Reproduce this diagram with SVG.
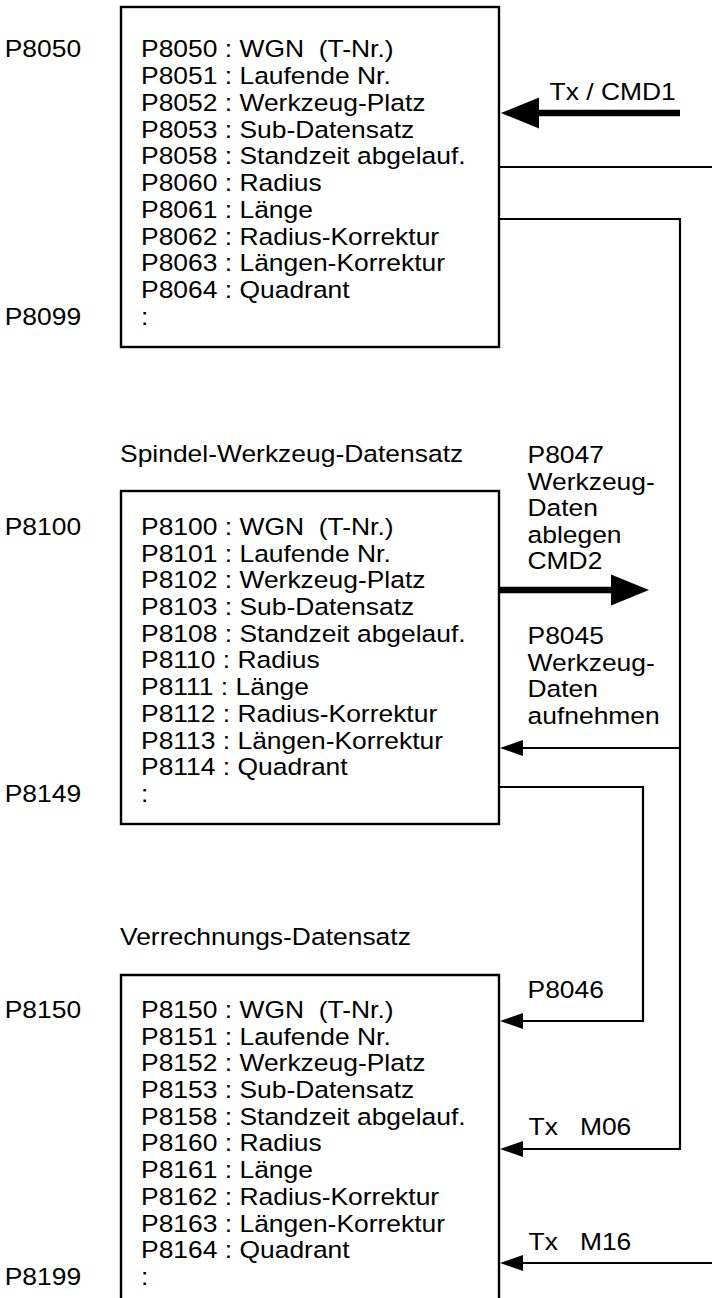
<svg xmlns="http://www.w3.org/2000/svg" width="712" height="1298" viewBox="0 0 712 1298">
  <style>
    text { font-family: "Liberation Sans", Arial, Helvetica, sans-serif; font-size: 23.5px; fill: #000; white-space: pre; }
    .box { fill: none; stroke: #000; stroke-width: 2.4; }
    .wire { fill: none; stroke: #000; stroke-width: 2.2; }
    .bold { fill: none; stroke: #000; stroke-width: 6.7; }
  </style>
  <defs>
    <!-- arrowheads: base sits at the path end, tip points onward -->
    <marker id="head-thin" markerUnits="userSpaceOnUse" markerWidth="23" markerHeight="16" refX="0" refY="8" orient="auto" overflow="visible">
      <path d="M0,0 L23,8 L0,16 Z" fill="#000"/>
    </marker>
    <marker id="head-bold" markerUnits="userSpaceOnUse" markerWidth="38" markerHeight="31" refX="0" refY="15.5" orient="auto" overflow="visible">
      <path d="M0,0 L38,15.5 L0,31 Z" fill="#000"/>
    </marker>
  </defs>

  <rect width="712" height="1298" fill="#fff"/>

  <!-- tool data record (P8050 .. P8099) -->
  <g id="record-tool">
    <rect class="box" x="121" y="7" width="378" height="340"/>
    <g transform="translate(4.7 0) scale(1.125 1)">
      <text x="0" y="57.5">P8050</text>
      <text x="0" y="325">P8099</text>
    </g>
    <g transform="translate(141 0) scale(1.125 1)">
      <text x="0" y="57.5">P8050 : WGN  (T-Nr.)</text>
      <text x="0" y="84.2">P8051 : Laufende Nr.</text>
      <text x="0" y="111">P8052 : Werkzeug-Platz</text>
      <text x="0" y="137.7">P8053 : Sub-Datensatz</text>
      <text x="0" y="164.5">P8058 : Standzeit abgelauf.</text>
      <text x="0" y="191.2">P8060 : Radius</text>
      <text x="0" y="218">P8061 : Länge</text>
      <text x="0" y="244.7">P8062 : Radius-Korrektur</text>
      <text x="0" y="271.5">P8063 : Längen-Korrektur</text>
      <text x="0" y="298.2">P8064 : Quadrant</text>
      <text x="0" y="325">:</text>
    </g>
  </g>

  <!-- spindle tool data record (P8100 .. P8149) -->
  <g id="record-spindle">
    <g transform="translate(120 0) scale(1.125 1)">
      <text x="0" y="462">Spindel-Werkzeug-Datensatz</text>
    </g>
    <rect class="box" x="121" y="491" width="378" height="333"/>
    <g transform="translate(4.7 0) scale(1.125 1)">
      <text x="0" y="535">P8100</text>
      <text x="0" y="802">P8149</text>
    </g>
    <g transform="translate(141 0) scale(1.125 1)">
      <text x="0" y="535">P8100 : WGN  (T-Nr.)</text>
      <text x="0" y="561.7">P8101 : Laufende Nr.</text>
      <text x="0" y="588.4">P8102 : Werkzeug-Platz</text>
      <text x="0" y="615.1">P8103 : Sub-Datensatz</text>
      <text x="0" y="641.8">P8108 : Standzeit abgelauf.</text>
      <text x="0" y="668.5">P8110 : Radius</text>
      <text x="0" y="695.2">P8111 : Länge</text>
      <text x="0" y="721.9">P8112 : Radius-Korrektur</text>
      <text x="0" y="748.6">P8113 : Längen-Korrektur</text>
      <text x="0" y="775.3">P8114 : Quadrant</text>
      <text x="0" y="802">:</text>
    </g>
  </g>

  <!-- offset data record (P8150 .. P8199), runs past the lower edge -->
  <g id="record-offset">
    <g transform="translate(120 0) scale(1.125 1)">
      <text x="0" y="945">Verrechnungs-Datensatz</text>
    </g>
    <path class="box" d="M121,1310 V975 H499 V1310"/>
    <g transform="translate(4.7 0) scale(1.125 1)">
      <text x="0" y="1018">P8150</text>
      <text x="0" y="1285">P8199</text>
    </g>
    <g transform="translate(141 0) scale(1.125 1)">
      <text x="0" y="1018">P8150 : WGN  (T-Nr.)</text>
      <text x="0" y="1044.7">P8151 : Laufende Nr.</text>
      <text x="0" y="1071.4">P8152 : Werkzeug-Platz</text>
      <text x="0" y="1098.1">P8153 : Sub-Datensatz</text>
      <text x="0" y="1124.8">P8158 : Standzeit abgelauf.</text>
      <text x="0" y="1151.5">P8160 : Radius</text>
      <text x="0" y="1178.2">P8161 : Länge</text>
      <text x="0" y="1204.9">P8162 : Radius-Korrektur</text>
      <text x="0" y="1231.6">P8163 : Längen-Korrektur</text>
      <text x="0" y="1258.3">P8164 : Quadrant</text>
      <text x="0" y="1285">:</text>
    </g>
  </g>

  <!-- connectors -->
  <g id="connectors">
    <path class="bold" d="M680,113 H539" marker-end="url(#head-bold)"/>
    <path class="wire" d="M500,167 H712"/>
    <path class="wire" d="M500,219 H680 V1149 H523" marker-end="url(#head-thin)"/>
    <path class="bold" d="M500,590 H611" marker-end="url(#head-bold)"/>
    <path class="wire" d="M680,748 H523" marker-end="url(#head-thin)"/>
    <path class="wire" d="M500,787 H643 V1021 H523" marker-end="url(#head-thin)"/>
    <path class="wire" d="M712,1263 H523" marker-end="url(#head-thin)"/>
  </g>

  <!-- connector labels -->
  <g id="labels">
    <g transform="translate(549.5 0) scale(1.125 1)">
      <text x="0" y="100">Tx / CMD1</text>
    </g>
    <g transform="translate(527.5 0) scale(1.125 1)">
      <text x="0" y="463">P8047</text>
      <text x="0" y="490">Werkzeug-</text>
      <text x="0" y="516.5">Daten</text>
      <text x="0" y="543">ablegen</text>
      <text x="0" y="569.5">CMD2</text>
      <text x="0" y="644">P8045</text>
      <text x="0" y="670.7">Werkzeug-</text>
      <text x="0" y="697.4">Daten</text>
      <text x="0" y="724">aufnehmen</text>
      <text x="0" y="998">P8046</text>
    </g>
    <g transform="translate(528.5 0) scale(1.125 1)">
      <text x="0" y="1135">Tx   M06</text>
      <text x="0" y="1250">Tx   M16</text>
    </g>
  </g>
</svg>
